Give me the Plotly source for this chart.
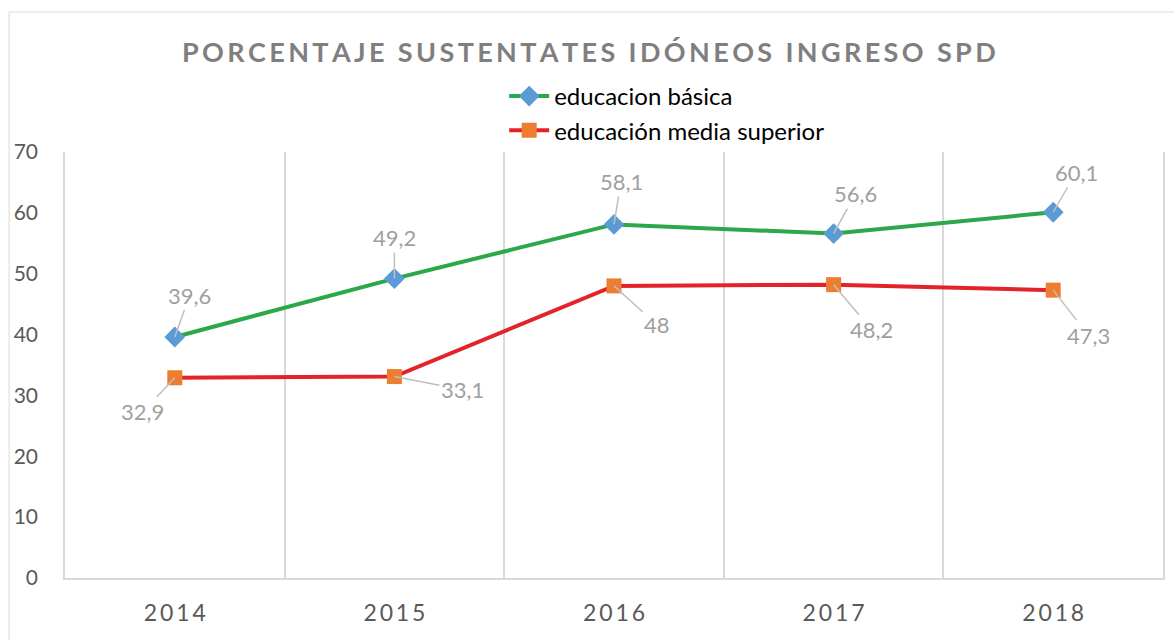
import plotly.graph_objects as go

years = ["2014", "2015", "2016", "2017", "2018"]
basica = [39.6, 49.2, 58.1, 56.6, 60.1]
media = [32.9, 33.1, 48.0, 48.2, 47.3]
y_ticks = [0, 10, 20, 30, 40, 50, 60, 70]
title_text = "PORCENTAJE SUSTENTATES IDÓNEOS INGRESO SPD"
series_names = ["educacion básica", "educación media superior"]

# label offsets (pixels) from point to label centre
basica_off = [(15, -42), (0, -41), (7, -43), (22, -40), (23, -40)]
media_off = [(-32, 34), (68, 13), (43, 39), (38, 45), (35, 45)]

THIN = "\u2009"
def spaced(s):
    return THIN.join(list(s))

def fmt(v):
    return f"{v:g}".replace(".", ",")

FONT = "Lato"

fig = go.Figure()
fig.add_trace(go.Scatter(
    x=years, y=basica, name=series_names[0], mode="lines+markers",
    line=dict(color="#2AA84A", width=4),
    marker=dict(symbol="diamond", size=16, color="#5B9BD5"),
))
fig.add_trace(go.Scatter(
    x=years, y=media, name=series_names[1], mode="lines+markers",
    line=dict(color="#E3232A", width=4),
    marker=dict(symbol="square", size=15, color="#ED7D31"),
))

annotations = []
for vals, offs in ((basica, basica_off), (media, media_off)):
    for i, (v, (dx, dy)) in enumerate(zip(vals, offs)):
        annotations.append(dict(
            x=i, y=v, xref="x", yref="y", text=fmt(v),
            showarrow=True, arrowhead=0, arrowwidth=1.5, arrowcolor="#BFBFBF",
            ax=dx, ay=dy, standoff=0,
            font=dict(family=FONT, size=22, color="#A0A0A0"),
        ))

annotations.append(dict(
    text=spaced(title_text), xref="paper", yref="paper",
    x=0.477, y=(578 - 52) / 426, xanchor="center", yanchor="middle",
    showarrow=False,
    font=dict(family=FONT, size=27, color="#7F7F7F", weight="bold"),
))
fig.update_layout(annotations=annotations)

fig.add_shape(type="rect", xref="paper", yref="paper",
              x0=(9 - 65) / 1100, x1=(1190 - 65) / 1100,
              y0=(578 - 660) / 426, y1=(578 - 12) / 426,
              line=dict(color="#D9D9D9", width=1), layer="below")

fig.update_layout(
    width=1174, height=640,
    margin=dict(l=65, r=9, t=152, b=62),
    paper_bgcolor="white", plot_bgcolor="white",
    showlegend=True,
    legend=dict(x=(505 - 65) / 1100, y=(578 - 74) / 426, xanchor="left", yanchor="top",
                orientation="v", font=dict(family=FONT, size=24, color="#000000"),
                bgcolor="rgba(0,0,0,0)", itemwidth=40, tracegroupgap=0),
    xaxis=dict(
        type="category", range=[-0.5, 4.5], tickson="boundaries",
        tickvals=years, ticktext=[spaced(y) for y in years],
        showgrid=True, gridcolor="#D9D9D9", gridwidth=1.5,
        showline=True, linecolor="#D9D9D9", linewidth=2,
        ticks="", ticklabelstandoff=13,
        tickfont=dict(family=FONT, size=23, color="#595959"),
        zeroline=False,
    ),
    yaxis=dict(
        range=[0, 70], tickvals=y_ticks, showgrid=False,
        showline=True, mirror=True, linecolor="#D9D9D9", linewidth=1.5,
        ticks="", ticklabelstandoff=21,
        tickfont=dict(family=FONT, size=21, color="#595959"),
        zeroline=False,
    ),
)

fig.write_html("out.html")
